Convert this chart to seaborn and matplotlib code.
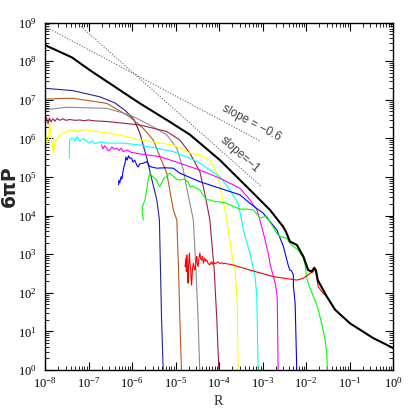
import numpy as np
import pandas as pd
import matplotlib
matplotlib.use("Agg")
import matplotlib.pyplot as plt
import seaborn as sns
from matplotlib.ticker import LogLocator, NullFormatter

# curves, stored as log10(R) and log10(6 pi P)
black_lr = [-8.00, -7.38, -6.97, -5.82, -5.13, -4.67, -3.98, -3.29, -2.83, -2.53, -2.46, -2.37,
            -2.21, -2.06, -1.95, -1.87, -1.81, -1.77, -1.73, -1.52, -1.33, -0.99, -0.46, 0.00]
black_lp = [8.42, 8.10, 7.77, 6.91, 6.43, 6.10, 5.44, 4.67, 4.15, 3.72, 3.58, 3.33,
            3.24, 2.94, 2.59, 2.55, 2.65, 2.58, 2.33, 1.90, 1.56, 1.21, 0.83, 0.57]

navy_lr = [-8.00, -7.36, -6.74, -6.39, -6.14, -5.95, -5.82, -5.66, -5.54, -5.43, -5.37, -5.35, -5.32, -5.28]
navy_lp = [7.30, 7.24, 7.08, 6.92, 6.71, 6.48, 6.14, 5.49, 4.92, 4.41, 3.89, 2.85, 1.30, -0.1]

brown_lr = [-8.00, -7.50, -7.35, -6.58, -6.05, -5.74, -5.51, -5.36, -5.20, -5.05, -4.97, -4.93, -4.90, -4.86]
brown_lp = [7.02, 7.04, 7.04, 6.91, 6.56, 6.26, 5.96, 5.53, 5.10, 4.15, 3.89, 2.59, 1.30, -0.1]

gray_lr = [-8.00, -7.50, -6.58, -6.05, -5.59, -5.20, -4.97, -4.82, -4.71, -4.59, -4.53, -4.48, -4.44]
gray_lp = [6.74, 6.81, 6.78, 6.61, 6.35, 6.09, 5.75, 5.18, 4.54, 3.89, 2.59, 1.30, -0.1]

maroon_lr = [-8.00, -7.97, -7.93, -7.90, -7.86, -7.82, -7.77, -7.72, -7.66, -7.59, -7.52, -7.43,
             -7.31, -7.20, -7.10, -7.00, -6.90, -6.58, -5.82, -5.20, -4.90, -4.67, -4.44, -4.32,
             -4.21, -4.11, -4.05, -4.00]
maroon_lp = [6.45, 6.56, 6.38, 6.53, 6.43, 6.51, 6.45, 6.52, 6.47, 6.51, 6.47, 6.49,
             6.47, 6.48, 6.46, 6.48, 6.46, 6.44, 6.35, 6.18, 5.96, 5.62, 5.14, 4.54,
             3.89, 2.59, 1.30, -0.1]

yellow_lr = [-8.00, -7.98, -7.95, -7.92, -7.89, -7.86, -7.81, -7.77, -7.73, -7.70, -7.66, -7.59,
             -7.50, -7.43, -7.35, -7.24, -7.13, -6.97, -6.58, -6.20, -5.82, -5.05, -4.67, -4.44,
             -4.21, -4.05, -3.94, -3.82, -3.71, -3.63, -3.58, -3.56]
yellow_lp = [5.92, 6.04, 5.88, 6.00, 6.39, 6.09, 5.62, 5.91, 5.96, 6.04, 6.09, 6.14,
             6.18, 6.22, 6.22, 6.19, 6.23, 6.20, 6.15, 6.07, 5.96, 5.83, 5.62, 5.57,
             5.44, 5.10, 4.58, 3.89, 3.03, 2.59, 1.74, -0.1]

cyan_lr = [-7.44, -7.44, -7.43, -7.39, -7.35, -7.31, -7.26, -7.20, -7.13, -7.04, -6.99, -6.92,
           -6.85, -6.74, -6.58, -6.39, -6.20, -5.82, -5.05, -4.67, -4.44, -3.98, -3.75, -3.56,
           -3.48, -3.44, -3.29, -3.17, -3.13, -3.10]
cyan_lp = [5.49, 5.70, 5.96, 6.01, 6.00, 5.94, 6.04, 5.92, 5.99, 5.94, 5.88, 5.94,
           5.86, 5.91, 5.88, 5.88, 5.88, 5.83, 5.66, 5.49, 5.36, 5.01, 4.67, 4.32,
           3.89, 3.63, 3.03, 2.42, 1.90, -0.1]

magenta_lr = [-6.70, -6.67, -6.63, -6.58, -6.55, -6.51, -6.46, -6.41, -6.35, -6.30, -6.25, -6.20,
              -6.11, -6.02, -5.82, -5.36, -4.90, -4.44, -3.98, -3.52, -3.29, -3.13, -3.06, -2.94,
              -2.87, -2.83, -2.79, -2.71, -2.67, -2.66, -2.64]
magenta_lp = [5.83, 5.73, 5.81, 5.75, 5.68, 5.70, 5.78, 5.72, 5.75, 5.69, 5.75, 5.66,
              5.70, 5.64, 5.60, 5.53, 5.36, 5.18, 4.97, 4.71, 4.41, 4.15, 3.89, 3.37,
              3.03, 2.77, 2.59, 2.25, 1.99, 1.82, -0.1]

blue_lr = [-6.31, -6.30, -6.28, -6.25, -6.23, -6.21, -6.18, -6.16, -6.14, -6.11, -6.08, -6.05,
           -6.01, -5.98, -5.94, -5.89, -5.86, -5.82, -5.74, -5.66, -5.59, -5.43, -5.24, -5.05,
           -4.90, -4.44, -3.98, -3.52, -3.29, -2.98, -2.67, -2.52, -2.41, -2.37, -2.33, -2.29,
           -2.29, -2.25, -2.21]
blue_lp = [4.80, 4.92, 4.85, 5.01, 4.95, 5.13, 5.29, 5.36, 5.52, 5.44, 5.55, 5.49,
           5.49, 5.39, 5.44, 5.31, 5.26, 5.34, 5.36, 5.40, 5.27, 5.23, 5.24, 5.23,
           5.10, 4.88, 4.71, 4.54, 4.32, 4.06, 3.63, 3.20, 2.72, 2.59, 2.57, 2.46,
           2.18, 1.73, -0.1]

green_lr = [-5.74, -5.77, -5.75, -5.70, -5.66, -5.63, -5.59, -5.54, -5.49, -5.43, -5.40, -5.36,
            -5.31, -5.26, -5.20, -5.16, -5.13, -5.06, -4.99, -4.90, -4.80, -4.71, -4.67, -4.60,
            -4.53, -4.44, -4.37, -4.28, -4.21, -4.09, -3.98, -3.86, -3.75, -3.52, -3.38, -3.21,
            -3.06, -2.90, -2.83, -2.67, -2.60, -2.44, -2.37, -2.29, -2.18, -2.06, -2.02, -1.99,
            -1.95, -1.83, -1.75, -1.64, -1.56, -1.52, -1.51]
green_lp = [3.89, 4.10, 4.27, 4.41, 4.67, 4.92, 5.10, 5.03, 4.98, 4.92, 4.82, 4.75,
            4.87, 4.98, 5.01, 5.08, 5.10, 5.03, 4.96, 4.92, 4.95, 4.87, 4.75, 4.77,
            4.72, 4.67, 4.54, 4.41, 4.41, 4.36, 4.36, 4.33, 4.28, 4.17, 4.17, 4.15,
            3.94, 3.99, 3.84, 3.54, 3.46, 3.41, 3.29, 3.20, 3.11, 2.90, 2.72, 2.42,
            2.25, 1.90, 1.69, 1.21, 0.78, 0.39, -0.1]

red_lr = [-4.78, -4.76, -4.75, -4.74, -4.72, -4.71, -4.70, -4.68, -4.67, -4.65, -4.64, -4.63,
          -4.61, -4.59, -4.57, -4.55, -4.53, -4.51, -4.50, -4.48, -4.46, -4.44, -4.42, -4.40,
          -4.38, -4.36, -4.33, -4.30, -4.28, -4.25, -4.21, -4.18, -4.15, -4.13, -4.10, -4.06,
          -4.02, -3.98, -3.94, -3.90, -3.86, -3.82, -3.75, -3.67, -3.29, -2.75, -2.21, -2.06,
          -1.90, -1.83, -1.79, -1.76, -1.72, -1.63, -1.52]
red_lp = [2.68, 2.90, 2.55, 2.98, 2.40, 2.25, 2.70, 3.03, 2.80, 2.59, 2.35, 2.20,
          2.60, 2.77, 2.65, 2.59, 2.85, 2.94, 2.75, 2.68, 2.90, 3.03, 2.88, 2.85,
          2.95, 2.77, 2.90, 2.82, 2.85, 2.76, 2.72, 2.80, 2.74, 2.81, 2.76, 2.77,
          2.80, 2.76, 2.78, 2.75, 2.77, 2.75, 2.74, 2.72, 2.59, 2.42, 2.33, 2.38,
          2.51, 2.55, 2.62, 2.44, 2.16, 2.02, 1.90]

# reference power laws
slope06_lr = [-8.00, -3.06]
slope06_lp = [8.90, 5.94]
slope1_lr = [-7.27, -3.02]
slope1_lp = [9.00, 4.75]

curves = [
    (navy_lr, navy_lp, "#23239b", 0.8),
    (brown_lr, brown_lp, "#b8561c", 0.8),
    (gray_lr, gray_lp, "#8c8c8c", 0.8),
    (maroon_lr, maroon_lp, "#9c1f42", 0.8),
    (yellow_lr, yellow_lp, "#ffff00", 0.8),
    (cyan_lr, cyan_lp, "#00ffff", 0.8),
    (magenta_lr, magenta_lp, "#ff00ff", 0.8),
    (blue_lr, blue_lp, "#0000ff", 0.8),
    (green_lr, green_lp, "#00ff00", 0.8),
    (red_lr, red_lp, "#ff0000", 0.8),
    (black_lr, black_lp, "black", 1.5),
]

sns.set_style("ticks")
plt.rcParams["font.family"] = ["Liberation Serif", "DejaVu Serif"]

fig = plt.figure(figsize=(4.15, 4.15), dpi=100)
ax = fig.add_axes([45 / 415, 45 / 415, 348 / 415, 347.3 / 415])
ax.set_xscale("log")
ax.set_yscale("log")

for lr, lp in [(slope06_lr, slope06_lp), (slope1_lr, slope1_lp)]:
    d = pd.DataFrame({"R": 10.0 ** np.array(lr), "P": 10.0 ** np.array(lp)})
    sns.lineplot(data=d, x="R", y="P", color="#666666", lw=0.8,
                 linestyle=(0, (1, 1.5)), sort=False, estimator=None, ax=ax)

for lr, lp, col, lw in curves:
    d = pd.DataFrame({"R": 10.0 ** np.array(lr), "P": 10.0 ** np.array(lp)})
    sns.lineplot(data=d, x="R", y="P", color=col, lw=lw,
                 sort=False, estimator=None, ax=ax)

ax.set_xlim(1e-8, 1)
ax.set_ylim(1, 1e9)

ax.xaxis.set_major_locator(LogLocator(base=10, numticks=20))
ax.yaxis.set_major_locator(LogLocator(base=10, numticks=20))
ax.xaxis.set_minor_locator(LogLocator(base=10, subs=np.arange(2, 10), numticks=20))
ax.yaxis.set_minor_locator(LogLocator(base=10, subs=np.arange(2, 10), numticks=20))
ax.xaxis.set_minor_formatter(NullFormatter())
ax.yaxis.set_minor_formatter(NullFormatter())

ax.tick_params(which="both", direction="in", top=True, right=True, colors="black", labelsize=9)
ax.tick_params(which="major", length=6, width=0.8)
ax.tick_params(which="minor", length=3, width=0.6)
ax.tick_params(axis="x", which="major", pad=4)
ax.tick_params(axis="y", which="major", pad=6)
for s in ax.spines.values():
    s.set_linewidth(1.0)
    s.set_color("black")

ax.set_xlabel("R", fontsize=10)
ax.xaxis.set_label_coords(0.497, -0.072)
ax.set_ylabel("6πP", fontsize=13.5, fontweight="bold", family="DejaVu Sans")
ax.yaxis.set_label_coords(-0.075, 0.528)

ax.text(10 ** -3.25, 10 ** 6.39, "slope = \u22120.6", rotation=-28, rotation_mode="anchor",
        ha="center", va="center", fontsize=8.5, color="#404040", family="Liberation Sans")
ax.text(10 ** -3.52, 10 ** 5.57, "slope=\u22121", rotation=-41.6, rotation_mode="anchor",
        ha="center", va="center", fontsize=8.5, color="#404040", family="Liberation Sans")

fig.savefig("out.png", dpi=100)
